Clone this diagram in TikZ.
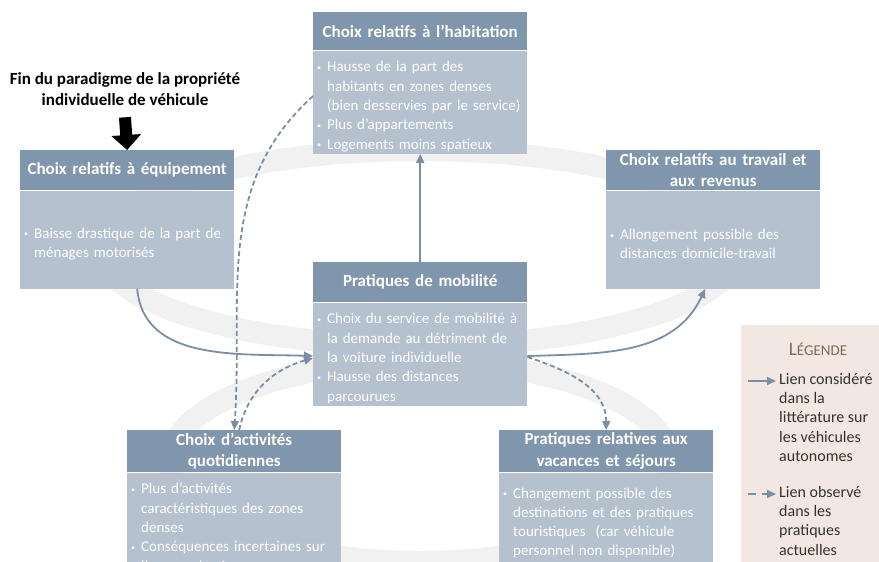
\documentclass[tikz,border=0pt]{standalone}
\usepackage{fontspec}
\setmainfont{Carlito}
\usetikzlibrary{arrows.meta, positioning}
\definecolor{hdrblue}{RGB}{128,150,172}
\definecolor{bodyblue}{RGB}{181,193,206}
\definecolor{linkblue}{RGB}{122,142,166}
\definecolor{ringgray}{RGB}{241,241,241}
\definecolor{legbeige}{RGB}{242,232,225}
\definecolor{legbrown}{RGB}{128,106,94}
\newcommand{\diagfont}{\fontsize{15}{19.3}\selectfont}
\newcommand{\hdrfont}{\fontsize{17}{21.5}\selectfont\bfseries}
\newcommand{\bul}{\par\hangindent=10pt\hangafter=1\noindent
  \makebox[10pt][l]{\raisebox{1.5pt}{\fontsize{8}{8}\selectfont\textbullet}}}

\begin{document}
\begin{tikzpicture}[
    x=1pt, y=1pt, font=\diagfont,
    hdr/.style={fill=hdrblue, text=white, font=\hdrfont,
        text width=206pt, inner xsep=4pt, inner ysep=1pt,
        minimum height=40pt, align=center, anchor=north west},
    bodybox/.style={fill=bodyblue, text=white, text width=206pt,
        inner xsep=4pt, inner ysep=2pt, minimum height=98pt, align=left},
    link/.style={linkblue, line width=1.8pt, -{Triangle[length=9pt, width=8pt]}},
    dlink/.style={link, dash pattern=on 5pt off 3pt},
    bigarrow/.style={line width=12pt, -{Triangle[length=15pt, width=29pt]}},
    ring/.style={ringgray, line width=22pt}
]
\useasboundingbox (0,0) rectangle (879,-562);
\clip (0,0) rectangle (879,-562);

% background rings
\draw[ring] (420,-248) ellipse [x radius=320, y radius=98];
\draw[ring] (420,-462) ellipse [x radius=250, y radius=100];

% title
\node[font=\hdrfont, align=center] (tit) at (125,-89)
    {Fin du paradigme de la propriété\\individuelle de véhicule};

% habitation
\node[hdr, minimum height=38pt] (hab-h) at (313,-12) {Choix relatifs à l'habitation};
\node[bodybox, below=0pt of hab-h] (hab) {%
    \bul Hausse de la part des\newline habitants en zones denses\newline
    (bien desservies par le service)
    \bul Plus d'appartements
    \bul Logements moins spatieux\par};

% equipement
\node[hdr] (equ-h) at (20,-150) {Choix relatifs à équipement};
\node[bodybox, below=0pt of equ-h] (equ) {%
    \bul Baisse drastique de la part de\newline ménages motorisés\par};

% travail
\node[hdr] (trv-h) at (606,-150) {Choix relatifs au travail et\\aux revenus};
\node[bodybox, below=0pt of trv-h] (trv) {%
    \bul Allongement possible des\newline distances domicile-travail\par};

% mobilite
\node[hdr] (mob-h) at (313,-262) {Pratiques de mobilité};
\node[bodybox, below=0pt of mob-h, minimum height=96pt] (mob) {%
    \bul Choix du service de mobilité à\newline la demande au détriment de\newline
    la voiture individuelle
    \bul Hausse des distances\newline parcourues\par};

% activites
\node[hdr, minimum height=42pt] (act-h) at (127,-430) {Choix d'activités\\quotidiennes};
\node[bodybox, below=0pt of act-h, minimum height=92pt] (act) {%
    \bul Plus d'activités\newline caractéristiques des zones\newline denses
    \bul Conséquences incertaines sur\newline l'espace de vie\par};

% vacances
\node[hdr, minimum height=42pt] (vac-h) at (499,-430) {Pratiques relatives aux\\vacances et séjours};
\node[bodybox, below=0pt of vac-h, minimum height=92pt] (vac) {%
    \bul Changement possible des\newline destinations et des pratiques\newline
    touristiques~ (car véhicule\newline personnel non disponible)\par};

% links
\draw[bigarrow] ([yshift=-8pt]tit.south) -- (equ-h.north);
\draw[link] ([xshift=10pt]equ.south) to[out=-85, in=178] ([yshift=-2pt]mob.west);
\draw[link] (mob-h.north) -- (hab.south);
\draw[link] ([yshift=-2pt]mob.east) to[out=2, in=-115] ([xshift=-8pt]trv.south);
\draw[dlink] ([yshift=6pt]hab.west) to[out=222, in=86] (act-h.north);
\draw[dlink] ([xshift=5pt]act-h.north) to[out=78, in=196] ([yshift=-4pt]mob.west);
\draw[dlink] ([yshift=-3pt]mob.east) to[out=-18, in=90] (vac-h.north);

% legend
\node[fill=legbeige, minimum width=140pt, minimum height=260pt, anchor=north west]
    (leg) at (741,-325) {};
\node[text=legbrown, font=\fontsize{15}{16}\selectfont] (leg-t) at (818,-349)
    {{\fontsize{19}{20}\selectfont L}ÉGENDE};
\node[text=black!80, align=left, inner sep=0pt, anchor=north west,
    font=\fontsize{16}{19.3}\selectfont] (leg-a) at (779,-373)
    {Lien considéré\\dans la\\littérature sur\\les véhicules\\autonomes};
\node[text=black!80, align=left, inner sep=0pt, anchor=north west,
    font=\fontsize{16}{19.3}\selectfont] (leg-b) at (779,-486)
    {Lien observé\\dans les\\pratiques\\actuelles};
\coordinate (ka) at (748,-381);
\coordinate (kb) at (748,-494);
\draw[link] (ka) -- ++(28,0);
\draw[dlink, dash pattern=on 8pt off 6pt] (kb) -- ++(28,0);

\end{tikzpicture}
\end{document}
